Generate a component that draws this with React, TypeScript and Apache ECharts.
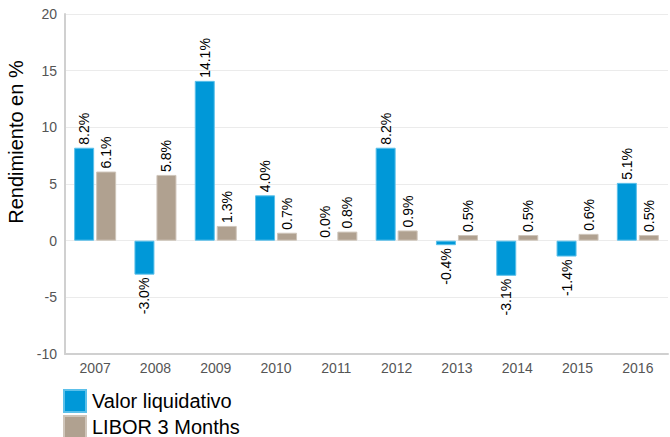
import React, { useEffect, useRef } from "react";
import * as echarts from "echarts";

const categories = ["2007", "2008", "2009", "2010", "2011", "2012", "2013", "2014", "2015", "2016"];
const valorLiquidativo = [8.2, -3.0, 14.1, 4.0, 0.0, 8.2, -0.4, -3.1, -1.4, 5.1];
const libor3Months = [6.1, 5.8, 1.3, 0.7, 0.8, 0.9, 0.5, 0.5, 0.6, 0.5];
const seriesNames = ["Valor liquidativo", "LIBOR 3 Months"];
const yAxisTitle = "Rendimiento en %";

const FONT = "'Liberation Sans', Arial, sans-serif";

function toData(values: number[]) {
  return values.map((v) => {
    const neg = v < 0;
    return {
      value: v,
      itemStyle: v === 0 ? { borderWidth: 0 } : undefined,
      label: {
        position: neg ? "bottom" : "top",
        align: neg ? "right" : "left",
        verticalAlign: "middle",
      },
    };
  });
}

export default function App() {
  const ref = useRef<HTMLDivElement>(null);
  useEffect(() => {
    if (!ref.current) return;
    const chart = echarts.init(ref.current, null, { renderer: "svg" });
    const label = {
      show: true,
      rotate: 90,
      distance: 3,
      fontSize: 14,
      fontFamily: FONT,
      color: "#000",
      formatter: (p: any) => Number(p.value).toFixed(1) + "%",
    };
    const legendBase = {
      orient: "vertical",
      left: 63,
      itemWidth: 22,
      itemHeight: 22,
      icon: "rect",
      padding: 0,
      textStyle: { fontSize: 20, color: "#000", fontFamily: FONT, padding: [0, 0, 0, 1] },
    };
    chart.setOption({
      animation: false,
      textStyle: { fontFamily: FONT },
      grid: { left: 65, right: 2, top: 14, bottom: 83, containLabel: false },
      legend: [
        { ...legendBase, top: 389, data: [seriesNames[0]] },
        { ...legendBase, top: 415, data: [seriesNames[1]] },
      ],
      graphic: [
        {
          type: "text",
          x: 16,
          y: 142,
          rotation: Math.PI / 2,
          style: {
            text: yAxisTitle,
            fontSize: 20,
            fontFamily: FONT,
            fill: "#000",
            textAlign: "center",
            textVerticalAlign: "middle",
          },
        },
      ],
      xAxis: {
        type: "category",
        data: categories,
        axisLine: { onZero: false, lineStyle: { color: "#d0d0d0", width: 2 } },
        axisTick: { show: false },
        axisLabel: { fontSize: 14, color: "#555", margin: 7, fontFamily: FONT },
        splitLine: { show: false },
      },
      yAxis: {
        type: "value",
        min: -10,
        max: 20,
        interval: 5,
        axisLine: { show: true, lineStyle: { color: "#d0d0d0", width: 2 } },
        axisTick: { show: false },
        axisLabel: { fontSize: 14, color: "#555", margin: 8, fontFamily: FONT },
        splitLine: { show: true, lineStyle: { color: "#ebebeb", width: 1 } },
      },
      series: [
        {
          name: seriesNames[0],
          type: "bar",
          data: toData(valorLiquidativo),
          barWidth: 20,
          barGap: "10%",
          itemStyle: { color: "#0098d8", borderColor: "#5cc0ea", borderWidth: 1 },
          label,
        },
        {
          name: seriesNames[1],
          type: "bar",
          data: toData(libor3Months),
          barWidth: 20,
          barGap: "10%",
          itemStyle: { color: "#b0a190", borderColor: "#cfc5ba", borderWidth: 1 },
          label,
        },
      ],
    });
    return () => chart.dispose();
  }, []);
  return <div ref={ref} style={{ width: 670, height: 437, position: "absolute", left: 0, top: 0 }} />;
}
